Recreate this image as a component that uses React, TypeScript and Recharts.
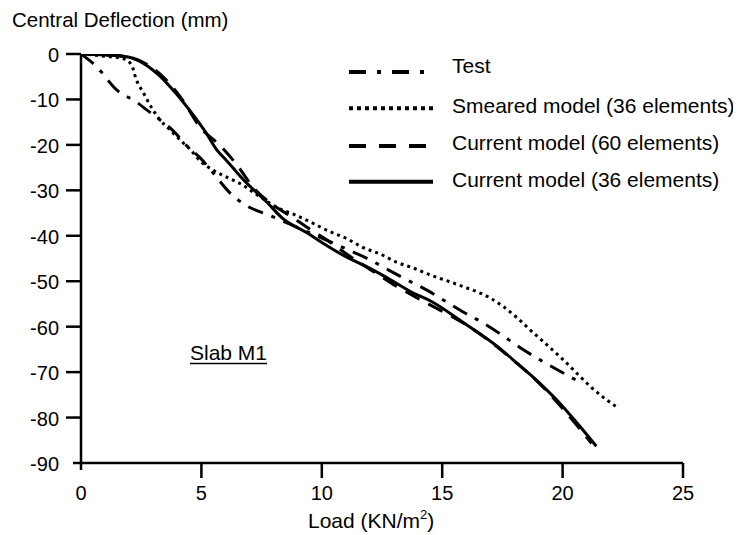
import React from "react";
import { LineChart, Line, XAxis, YAxis } from "recharts";

// ---- data (Load in KN/m^2, Central Deflection in mm) ----
const testLoad = [0, 0.65, 1.48, 2.31, 2.73, 3.28, 3.83, 4.39, 4.94, 5.49, 6.19, 6.88, 7.78, 9, 10, 11.1, 11.93, 12.76, 13.5, 14.35, 15.19, 15.95, 16.71, 17.47, 18.26, 19.06, 19.82, 20.65];
const testDefl = [0, -2.8, -7.9, -10.6, -12.3, -14.5, -16.9, -20.2, -22.8, -26.2, -30.6, -33.4, -35.4, -38.2, -40.5, -43.1, -45.1, -47.5, -49.6, -51.9, -54.6, -57.0, -59.2, -61.8, -64.7, -67.3, -69.6, -72.0];

const smearLoad = [0, 1, 1.8, 2.1, 2.3, 2.6, 2.94, 3.28, 3.7, 4.11, 4.5, 4.94, 5.5, 6.05, 6.6, 7.43, 8.26, 8.8, 9.65, 10.3, 11.03, 11.72, 12.42, 13.1, 13.8, 14.49, 15.2, 15.88, 16.57, 17.0, 17.54, 18.1, 18.65, 19.35, 20.03, 20.6, 21.14, 21.7, 22.31];
const smearDefl = [0, -0.5, -1.1, -2.4, -5.7, -8.6, -11.9, -14.5, -16.7, -18.9, -20.8, -23.5, -25.6, -27.1, -28.5, -31.4, -34.1, -35.2, -37.3, -39.0, -40.6, -42.6, -44.0, -45.8, -47.1, -48.6, -49.9, -51.2, -52.6, -53.7, -55.6, -58.0, -60.7, -64.0, -67.3, -70.3, -73.1, -75.6, -77.9];

const cur60Load = [0, 1, 2, 2.8, 3.5, 4.2, 4.9, 5.84, 6.56, 7.14, 7.97, 8.8, 9.4, 10.2, 11, 12, 13, 14, 15, 16, 17, 18, 19, 20, 21.2];
const cur60Defl = [0, -0.2, -0.7, -2.5, -5.5, -10.0, -15.8, -20.5, -25.0, -29.3, -33.2, -36.0, -38.2, -40.9, -43.9, -47.4, -50.8, -53.8, -56.6, -59.6, -63.3, -67.6, -72.3, -78.0, -85.7];

const cur36Load = [0, 1, 1.9, 2.7, 3.2, 3.7, 4.5, 5.2, 5.64, 6.05, 6.3, 6.88, 7.7, 8.4, 9.4, 10.1, 11, 11.9, 12.7, 13.8, 14.5, 15.9, 17.3, 18.1, 18.9, 19.75, 20.6, 21.4];
const cur36Defl = [0, -0.2, -0.6, -2.4, -4.5, -7.2, -12.3, -17.4, -21.1, -23.5, -25.0, -28.4, -32.5, -36.3, -39.4, -41.8, -44.6, -46.9, -49.2, -52.6, -54.3, -59.2, -64.4, -68.0, -71.7, -76.1, -81.2, -86.3];

const xTicks = [0, 5, 10, 15, 20, 25];
const yTicks = [0, -10, -20, -30, -40, -50, -60, -70, -80, -90];

const seriesNames = [
  "Test",
  "Smeared model (36 elements)",
  "Current model (60 elements)",
  "Current model (36 elements)",
];

const zip = (xs: number[], ys: number[]) => xs.map((x, i) => ({ x, y: ys[i] }));

const series = [
  { name: seriesNames[0], data: zip(testLoad, testDefl), dash: "16 9 4 9", legendDash: "17 11 4 11" },
  { name: seriesNames[1], data: zip(smearLoad, smearDefl), dash: "3 4", legendDash: "4 4" },
  { name: seriesNames[2], data: zip(cur60Load, cur60Defl), dash: "16 10", legendDash: "17 13" },
  { name: seriesNames[3], data: zip(cur36Load, cur36Defl), dash: undefined, legendDash: undefined },
];

const FONT = "'Liberation Sans', Arial, Helvetica, sans-serif";

const XTick = (props: any) => {
  const { x, y, payload } = props;
  const len = payload.value === 0 ? 7 : 15;
  return (
    <g>
      <line x1={x} y1={y} x2={x} y2={y + len} stroke="#000" strokeWidth={2.5} />
      <text x={x} y={y + 36.5} textAnchor="middle" fontFamily={FONT} fontSize={20} fill="#000">
        {payload.value}
      </text>
    </g>
  );
};

const YTick = (props: any) => {
  const { x, y, payload } = props;
  const len = payload.value === -90 ? 8 : 15;
  return (
    <g>
      <line x1={x - len} y1={y} x2={x} y2={y} stroke="#000" strokeWidth={2.5} />
      <text x={x - 22} y={y + 8} textAnchor="end" fontFamily={FONT} fontSize={20} fill="#000">
        {payload.value}
      </text>
    </g>
  );
};

const legendRows = [
  { lineY: 64, textY: 64.5 },
  { lineY: 100.3, textY: 104.7 },
  { lineY: 138, textY: 142 },
  { lineY: 173.7, textY: 178.7 },
];

export default function App() {
  return (
    <LineChart
      width={733}
      height={527}
      margin={{ top: 46, right: 58, bottom: 32, left: 13 }}
      style={{ fontFamily: FONT }}
    >
      <XAxis
        type="number"
        dataKey="x"
        domain={[0, 25]}
        ticks={xTicks}
        allowDataOverflow
        height={40}
        tickSize={0}
        tickMargin={0}
        tickLine={false}
        axisLine={{ stroke: "#000", strokeWidth: 2.5 }}
        tick={<XTick />}
        interval={0}
      />
      <YAxis
        type="number"
        dataKey="y"
        domain={[-90, 0]}
        ticks={yTicks}
        allowDataOverflow
        width={60}
        tickSize={0}
        tickMargin={0}
        tickLine={false}
        axisLine={{ stroke: "#000", strokeWidth: 2.5 }}
        tick={<YTick />}
        interval={0}
      />
      {series.map((s) => (
        <Line
          key={s.name}
          name={s.name}
          data={s.data}
          dataKey="y"
          type="monotone"
          stroke="#000"
          strokeWidth={3}
          strokeDasharray={s.dash}
          dot={false}
          activeDot={false}
          isAnimationActive={false}
        />
      ))}
      <text x={4} y={19} fontFamily={FONT} fontSize={20.5} fill="#000">
        Central Deflection (mm)
      </text>
      <text x={300} y={520} fontFamily={FONT} fontSize={21} fill="#000">
        Load (KN/m
        <tspan fontSize={13} dy={-9}>2</tspan>
        <tspan dy={9}>)</tspan>
      </text>
      <text x={182} y={352} fontFamily={FONT} fontSize={21} fill="#000">
        Slab M1
      </text>
      <line x1={182} y1={355.5} x2={259} y2={355.5} stroke="#000" strokeWidth={1.5} />
      {series.map((s, i) => (
        <g key={"lg" + i}>
          <line
            x1={341}
            y1={legendRows[i].lineY}
            x2={425}
            y2={legendRows[i].lineY}
            stroke="#000"
            strokeWidth={4}
            strokeDasharray={s.legendDash}
          />
          <text x={444} y={legendRows[i].textY} fontFamily={FONT} fontSize={21} fill="#000">
            {s.name}
          </text>
        </g>
      ))}
    </LineChart>
  );
}
